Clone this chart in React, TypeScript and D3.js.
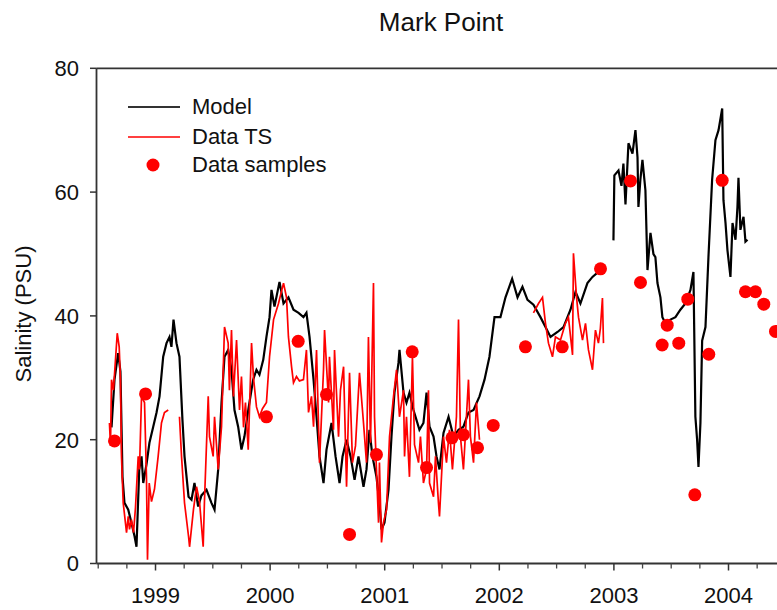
import React from "react";
import * as d3 from "d3";

// ---- Data (decimal year, salinity PSU) ----
const modelSeg1: [number, number][] = [
  [1998.616, 22], [1998.642, 29.7], [1998.674, 34], [1998.694, 31], [1998.712, 14],
  [1998.729, 9.8], [1998.762, 8.7], [1998.79, 6.6], [1998.817, 4.4], [1998.834, 2.7],
  [1998.858, 15.2], [1998.878, 17.3], [1998.893, 13], [1998.921, 16], [1998.947, 19.5],
  [1998.98, 22.1], [1999.009, 24.4], [1999.035, 27], [1999.067, 33.4], [1999.096, 35.6],
  [1999.122, 36.6], [1999.139, 35], [1999.157, 39.4], [1999.183, 35.6], [1999.209, 33.4],
  [1999.235, 23.2], [1999.253, 17.3], [1999.288, 10.8], [1999.314, 10.3], [1999.34, 13],
  [1999.372, 9.2], [1999.401, 11], [1999.445, 11.9], [1999.488, 9.8], [1999.515, 8.7],
  [1999.547, 15.2], [1999.576, 26], [1999.602, 33.4], [1999.634, 34.5], [1999.663, 31.3],
  [1999.689, 24.8], [1999.721, 22.1], [1999.75, 18.4], [1999.776, 20.5], [1999.811, 25],
  [1999.852, 29.7], [1999.881, 31.3], [1999.907, 30.5], [1999.94, 32.9], [1999.968, 36.6],
  [1999.995, 39.8], [2000.012, 44.2], [2000.038, 41.5], [2000.082, 45.5], [2000.117, 42],
  [2000.16, 43], [2000.204, 41], [2000.248, 40.5], [2000.291, 39.8], [2000.317, 40.5],
  [2000.344, 36.6], [2000.379, 29.7], [2000.405, 23.7], [2000.431, 17.3], [2000.466, 13],
  [2000.492, 18.4], [2000.536, 22.7], [2000.571, 17.3], [2000.606, 13], [2000.632, 17.3],
  [2000.667, 20], [2000.702, 17.3], [2000.737, 13.5], [2000.771, 17.3], [2000.815, 12.4],
  [2000.841, 15.2], [2000.867, 21.6], [2000.893, 17.3], [2000.928, 14], [2000.954, 9.8],
  [2000.972, 5.5], [2000.998, 6.6], [2001.033, 11.9], [2001.059, 20.5], [2001.085, 27.6],
  [2001.12, 32.4], [2001.129, 34.5], [2001.164, 27.6], [2001.19, 26], [2001.216, 27.6],
  [2001.251, 24.8], [2001.277, 23.2], [2001.303, 21.6], [2001.338, 22.7], [2001.365, 27.6],
  [2001.391, 22.1], [2001.426, 20.5], [2001.452, 17.3], [2001.478, 15.2], [2001.513, 21.1],
  [2001.557, 23.7], [2001.6, 20.5], [2001.644, 21.6], [2001.687, 22.1], [2001.731, 24.4],
  [2001.775, 24.8], [2001.827, 27], [2001.871, 29.7], [2001.914, 33.4], [2001.958, 39.8],
  [2002.01, 39.8], [2002.054, 43], [2002.112, 46], [2002.159, 43], [2002.202, 44.7],
  [2002.246, 42.6], [2002.298, 41.8], [2002.359, 39.8], [2002.403, 38.2], [2002.447, 36.6],
  [2002.508, 37.4], [2002.56, 38.2], [2002.621, 41], [2002.665, 43.9], [2002.708, 42],
  [2002.769, 45.3], [2002.813, 46.3], [2002.857, 47],
];

const modelSeg2: [number, number][] = [
  [2002.996, 52.2], [2003.004, 62.7], [2003.04, 63.5], [2003.066, 61], [2003.083, 64.6],
  [2003.101, 58], [2003.127, 67.9], [2003.162, 66.2], [2003.188, 70], [2003.206, 65.6],
  [2003.214, 57.6], [2003.231, 62], [2003.249, 65.2], [2003.275, 60.3], [2003.293, 47.4],
  [2003.319, 53.4], [2003.345, 50], [2003.362, 49.5], [2003.38, 45.3], [2003.406, 43],
  [2003.423, 39.8], [2003.45, 38.8], [2003.493, 39.4], [2003.537, 39.8], [2003.58, 41],
  [2003.624, 42], [2003.668, 44.2], [2003.694, 47.1], [2003.711, 23.7], [2003.726, 20],
  [2003.738, 15.6], [2003.755, 22.7], [2003.77, 36], [2003.799, 38.2], [2003.825, 49.5],
  [2003.857, 62], [2003.886, 68.4], [2003.913, 70], [2003.945, 73.5], [2003.956, 58.7],
  [2003.974, 55], [2003.991, 50.6], [2004.017, 46.3], [2004.035, 55], [2004.061, 52.3],
  [2004.078, 57.6], [2004.087, 62.3], [2004.104, 53.9], [2004.131, 56], [2004.148, 52],
  [2004.166, 52.3],
];

const tsSegA: [number, number][] = [
  [1998.598, 22.7], [1998.607, 19], [1998.616, 29.7], [1998.633, 28], [1998.666, 37.2],
  [1998.683, 35], [1998.694, 29.7], [1998.703, 17.3], [1998.718, 9.8], [1998.747, 5],
  [1998.762, 7.6], [1998.773, 5.5], [1998.79, 7.1], [1998.808, 5], [1998.825, 9],
  [1998.849, 17.3], [1998.86, 15.2], [1998.878, 27], [1998.904, 26], [1998.921, 14],
  [1998.93, 0.6], [1998.945, 13], [1998.965, 10], [1998.991, 12], [1999.023, 17.3],
  [1999.052, 22.7], [1999.078, 24.4], [1999.111, 24.8],
];

const tsSegB: [number, number][] = [
  [1999.209, 23.7], [1999.227, 17.3], [1999.253, 9.8], [1999.288, 4.4], [1999.297, 2.7],
  [1999.331, 8.7], [1999.358, 12.4], [1999.384, 10], [1999.416, 2.7], [1999.427, 10],
  [1999.46, 27], [1999.471, 20.5], [1999.503, 17.3], [1999.515, 23.7], [1999.547, 15.2],
  [1999.576, 22.1], [1999.602, 38.2], [1999.634, 35.6], [1999.645, 28], [1999.663, 37.7],
  [1999.68, 27], [1999.707, 36.1], [1999.733, 24.8], [1999.75, 30.2], [1999.768, 22],
  [1999.785, 26], [1999.809, 18.4], [1999.838, 35.6], [1999.855, 30], [1999.881, 25.3],
  [1999.907, 23.7], [1999.933, 25], [1999.968, 26], [1999.995, 33.4], [2000.03, 39.4],
  [2000.073, 42], [2000.117, 45.3], [2000.143, 43], [2000.16, 36.6], [2000.187, 31.8],
  [2000.204, 29.2], [2000.23, 30.2], [2000.256, 29.5], [2000.291, 29.7], [2000.317, 34.5],
  [2000.335, 24.4], [2000.361, 27], [2000.379, 22.1], [2000.405, 34.5], [2000.431, 16.3],
  [2000.466, 31.3], [2000.475, 37.7], [2000.51, 26], [2000.518, 33.4], [2000.553, 21.6],
  [2000.562, 34.5], [2000.597, 20.5], [2000.614, 28], [2000.641, 31.8], [2000.667, 12.4],
  [2000.693, 30.8], [2000.719, 16.3], [2000.745, 19], [2000.78, 30.8], [2000.815, 22.7],
  [2000.841, 16.3], [2000.858, 36.6], [2000.876, 19.5], [2000.902, 45.3], [2000.911, 23.7],
  [2000.928, 15.2], [2000.946, 6.6], [2000.954, 16.3], [2000.972, 3.4], [2000.989, 6.6],
  [2001.016, 8.7], [2001.042, 20.5], [2001.077, 27], [2001.103, 31.3], [2001.129, 23.7],
  [2001.164, 28], [2001.173, 17.3], [2001.19, 23.7], [2001.216, 14], [2001.242, 33.4],
  [2001.26, 19.2], [2001.295, 16.3], [2001.312, 20.5], [2001.338, 13], [2001.365, 15.2],
  [2001.382, 28], [2001.391, 13], [2001.426, 10.8], [2001.443, 17.3], [2001.469, 9.8],
  [2001.478, 7.6], [2001.513, 20.5], [2001.539, 16.3], [2001.565, 21.6], [2001.591, 15.2],
  [2001.626, 23.7], [2001.644, 39.4], [2001.661, 20.5], [2001.687, 15.2], [2001.713, 23.7],
  [2001.731, 29.7], [2001.748, 20.5], [2001.775, 16.3], [2001.801, 26], [2001.827, 20],
];

const tsSegC: [number, number][] = [
  [2002.298, 40.5], [2002.342, 42], [2002.377, 43], [2002.403, 38.8], [2002.429, 35.6],
  [2002.464, 33.4], [2002.49, 36.6], [2002.534, 36.1], [2002.577, 38.8], [2002.603, 39.8],
  [2002.639, 33.7], [2002.647, 50.1], [2002.674, 43], [2002.691, 39.8], [2002.726, 36.1],
  [2002.752, 38.8], [2002.778, 34.5], [2002.813, 31.3], [2002.839, 37.7], [2002.865, 35.6],
  [2002.882, 38], [2002.9, 42.9], [2002.909, 35.6],
];

const sampleDates = [
  1998.642, 1998.913, 1999.968, 2000.245, 2000.492, 2000.693, 2000.928, 2001.24,
  2001.365, 2001.587, 2001.687, 2001.81, 2001.947, 2002.228, 2002.549, 2002.883,
  2003.145, 2003.232, 2003.421, 2003.465, 2003.566, 2003.645, 2003.706, 2003.828,
  2003.945, 2004.148, 2004.235, 2004.308, 2004.41,
];
const sampleValues = [
  19.8, 27.4, 23.7, 35.9, 27.3, 4.7, 17.6, 34.2,
  15.5, 20.3, 20.8, 18.7, 22.3, 35.0, 35.0, 47.6,
  61.8, 45.4, 35.3, 38.5, 35.6, 42.7, 11.1, 33.8,
  61.9, 43.9, 43.9, 41.9, 37.5,
];

const yTickValues = [0, 20, 40, 60, 80];
const yearTicks = [1999, 2000, 2001, 2002, 2003, 2004];
const quarterTicks = d3.range(1998.5, 2005.01, 0.25).filter((t) => t % 1 !== 0);

const titleText = "Mark Point";
const yLabel = "Salinity (PSU)";
const legendItems = ["Model", "Data TS", "Data samples"];

export default function App() {
  const W = 777;
  const H = 610;
  const font = "'Liberation Sans', Arial, Helvetica, sans-serif";

  const x = d3.scaleLinear().domain([1998.485, 2005]).range([96.5, 843.1]);
  const y = d3.scaleLinear().domain([0, 80]).range([563.5, 68.3]);

  const line = d3
    .line<[number, number]>()
    .x((d) => x(d[0]))
    .y((d) => y(d[1]));

  const x0 = x.range()[0];
  const x1 = x.range()[1];
  const yb = y(0);
  const yt = y(80);

  return (
    <svg
      width={W}
      height={H}
      viewBox={`0 0 ${W} ${H}`}
      style={{ position: "absolute", left: 0, top: 0, background: "#fff" }}
      fontFamily={font}
    >
      <rect x={0} y={0} width={W} height={H} fill="#fff" />
      {/* Title */}
      <text x={441} y={31} textAnchor="middle" fontSize={26} fill="#111">
        {titleText}
      </text>

      {/* Lines */}
      <g fill="none" strokeLinejoin="miter">
        {[modelSeg1, modelSeg2].map((s, i) => (
          <path key={"m" + i} d={line(s) || ""} stroke="#000" strokeWidth={2.2} />
        ))}
        {[tsSegA, tsSegB, tsSegC].map((s, i) => (
          <path key={"t" + i} d={line(s) || ""} stroke="#ff0000" strokeWidth={1.7} />
        ))}
      </g>

      {/* Samples */}
      <g fill="#ff0000">
        {sampleDates.map((t, i) => (
          <circle key={i} cx={x(t)} cy={y(sampleValues[i])} r={6.5} />
        ))}
      </g>

      {/* Frame */}
      <g stroke="#333" strokeWidth={1.8} fill="none">
        <line x1={x0} y1={yt} x2={x1} y2={yt} />
        <line x1={x0} y1={yt} x2={x0} y2={yb} />
        <line x1={x0} y1={yb} x2={x1} y2={yb} />
        <line x1={x1} y1={yt} x2={x1} y2={yb} />
      </g>

      {/* Y ticks */}
      <g>
        {yTickValues.map((v) => (
          <g key={v}>
            <line x1={x0 - 6.5} x2={x0} y1={y(v)} y2={y(v)} stroke="#333" strokeWidth={1.5} />
            <text
              x={79}
              y={y(v)}
              dy="0.36em"
              textAnchor="end"
              fontSize={22}
              fill="#111"
            >
              {v}
            </text>
          </g>
        ))}
      </g>

      {/* X ticks */}
      <g>
        {quarterTicks.map((t) => (
          <line key={t} x1={x(t)} x2={x(t)} y1={yb} y2={yb + 5} stroke="#444" strokeWidth={1.3} />
        ))}
        {yearTicks.map((t) => (
          <g key={t}>
            <line x1={x(t)} x2={x(t)} y1={yb} y2={yb + 7} stroke="#333" strokeWidth={1.5} />
            <text x={x(t)} y={603} textAnchor="middle" fontSize={22} fill="#111">
              {t}
            </text>
          </g>
        ))}
      </g>

      {/* Y label */}
      <text
        transform={`translate(31, 314) rotate(-90)`}
        textAnchor="middle"
        fontSize={22}
        fill="#111"
      >
        {yLabel}
      </text>

      {/* Legend */}
      <g>
        <line x1={128} x2={180} y1={107} y2={107} stroke="#333" strokeWidth={1.8} />
        <text x={192} y={114} fontSize={22} fill="#111">{legendItems[0]}</text>
        <line x1={128} x2={180} y1={137} y2={137} stroke="#ff0000" strokeWidth={1.3} />
        <text x={192} y={144} fontSize={22} fill="#111">{legendItems[1]}</text>
        <circle cx={153} cy={165} r={6.5} fill="#ff0000" />
        <text x={192} y={172} fontSize={22} fill="#111">{legendItems[2]}</text>
      </g>
    </svg>
  );
}
